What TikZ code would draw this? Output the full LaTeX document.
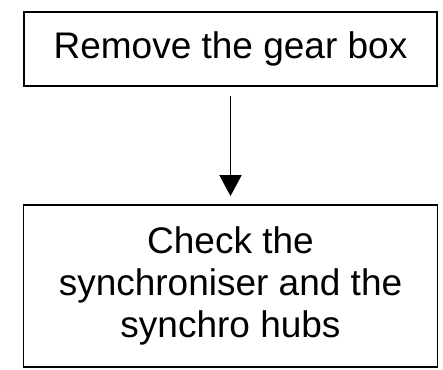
\documentclass[tikz,border=0pt]{standalone}
\usepackage{fontspec}
\setmainfont{Liberation Sans}
\usetikzlibrary{arrows.meta}
\tikzset{stepbox/.style={draw,line width=1.8pt,align=center,inner sep=0pt,font=\fontsize{37}{42}\selectfont}}
\begin{document}
\begin{tikzpicture}[x=1pt,y=-1pt]
\useasboundingbox (0,0) rectangle (443,369);
\node[stepbox,minimum width=413pt,minimum height=74pt] (R) at (230.5,49) {Remove the gear box};
\node[stepbox,minimum width=414pt,minimum height=162pt] (C) at (230.5,286) {Check the\\synchroniser and the\\synchro hubs};

\draw[line width=1.8pt,-{Triangle[length=21pt,width=22pt]},shorten <=9pt,shorten >=8pt] (R.south) -- (C.north);
\end{tikzpicture}
\end{document}
